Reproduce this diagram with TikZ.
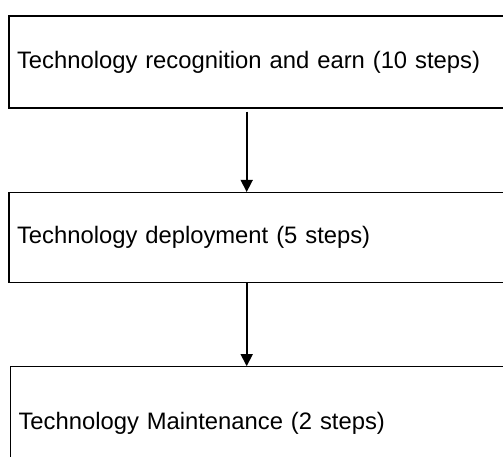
\documentclass[tikz,border=0pt]{standalone}
\usepackage{fontspec}
\setmainfont{Liberation Sans}
\usetikzlibrary{arrows.meta}
\begin{document}
\begin{tikzpicture}[x=1pt,y=-1pt,
  stagebox/.style={draw, rectangle, line width=1.1pt, align=left,
    font=\fontsize{23.8}{28}\selectfont, inner xsep=8pt, inner ysep=0pt,
    minimum width=497pt, text width=481pt},
  flowarrow/.style={line width=1.6pt, -{Triangle[length=12pt,width=12pt]}}]
  \useasboundingbox (0,0) rectangle (503,456);
  % three stages
  \node[stagebox, minimum height=92pt] (recog) at (257.5,62) {Technology recognition and earn (10 steps)};
  \node[stagebox, minimum height=89.8pt] (deploy) at (257.5,237.4) {Technology deployment (5 steps)};
  \node[stagebox, minimum height=113.3pt, minimum width=495.5pt, text width=479.5pt] (maint) at (258.25,423.35) {Technology Maintenance (2 steps)};
  % arrows between stages
  \coordinate (ax) at (246.7,0);
  \draw[flowarrow] ([yshift=-3pt]recog.south -| ax) -- (deploy.north -| ax);
  \draw[flowarrow] (deploy.south -| ax) -- (maint.north -| ax);
\end{tikzpicture}
\end{document}
